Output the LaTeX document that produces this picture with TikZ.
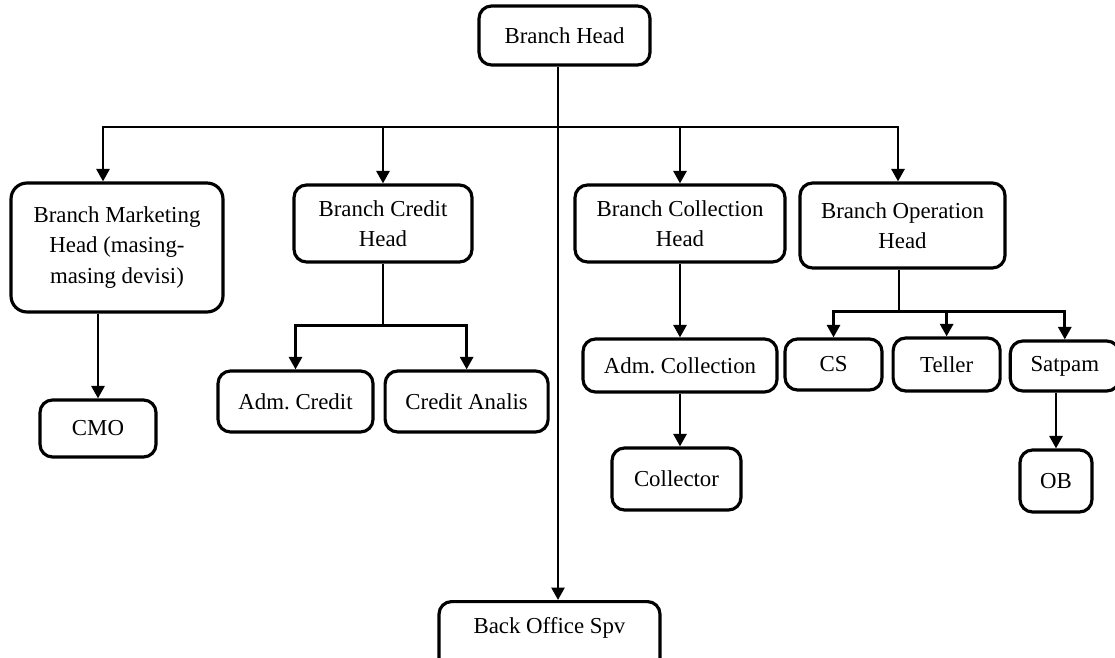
\documentclass[tikz,border=0pt]{standalone}
\usepackage{fontspec}
\setmainfont{Liberation Serif}
\usetikzlibrary{positioning, arrows.meta}

\begin{document}
\begin{tikzpicture}[
            x=0.02cm, y=-0.02cm,
            orgbox/.style={draw=black, line width=1.8pt, rounded corners=0.25cm, align=center, font=\fontsize{13}{17.4}\selectfont, inner sep=0pt},
            arrow/.style={-{Triangle[length=0.25cm, width=0.26cm]}, line width=1.6pt},
            link/.style={line width=1.6pt}
        ]
            \clip (0,0) rectangle (1115,658);

            \node[orgbox, minimum width=3.42cm, minimum height=1.18cm] (head) at (564.5,35.5) {Branch Head};

            \node[orgbox, rounded corners=0.32cm, minimum width=4.24cm, minimum height=2.58cm] (mkt) at (117,247.5) {Branch Marketing\\Head (masing-\\masing devisi)};
            \node[orgbox, minimum width=3.56cm, minimum height=1.54cm] (credit) at (383,223.5) {Branch Credit\\Head};
            \node[orgbox, minimum width=4.2cm, minimum height=1.54cm] (coll) at (680,223.5) {Branch Collection\\Head};
            \node[orgbox, minimum width=4.1cm, minimum height=1.7cm] (oper) at (902.5,225.5) {Branch Operation\\Head};

            \node[orgbox, minimum width=2.32cm, minimum height=1.14cm] (cmo) at (98,428.5) {CMO};
            \node[orgbox, minimum width=3.1cm, minimum height=1.22cm] (admcr) at (295.5,401.5) {Adm.\ Credit};
            \node[orgbox, minimum width=3.26cm, minimum height=1.22cm, right=0.18cm of admcr] (analis) {Credit Analis};
            \node[orgbox, minimum width=3.88cm, minimum height=1.06cm] (admcoll) at (680,365.5) {Adm.\ Collection};
            \node[orgbox, minimum width=2.58cm, minimum height=1.24cm] (collector) at (676.5,479) {Collector};
            \node[orgbox, minimum width=1.94cm, minimum height=1.02cm] (cs) at (833.5,364.5) {CS};
            \node[orgbox, minimum width=2.14cm, minimum height=1.06cm, right=0.16cm of cs] (teller) {Teller};
            \node[orgbox, minimum width=2.18cm, minimum height=1.0cm, right=0.14cm of teller, yshift=-0.03cm] (satpam) {Satpam};
            \node[orgbox, minimum width=1.44cm, minimum height=1.24cm] (ob) at (1056,481) {OB};

            \node[orgbox, minimum width=4.42cm, text height=0.64cm, text depth=0.8cm, anchor=north] (back) at (549.5,600) {Back Office Spv};

            \coordinate (bus) at (558,127);
            \draw[link] (head.south -| bus) -- (bus);
            \draw[arrow] (bus) -- (back.north -| bus);
            \draw[arrow] (bus) -| ([xshift=-0.28cm]mkt.north);
            \draw[arrow] (bus) -| (credit.north);
            \draw[arrow] (bus) -| (coll.north);
            \draw[arrow] (bus) -| ([xshift=-0.09cm]oper.north);

            \draw[arrow] (mkt.south -| cmo.north) -- (cmo.north);

            \draw[link] (credit.south) -- ++(0,62) coordinate (creditbus);
            \draw[arrow] (creditbus) -| (admcr.north);
            \draw[arrow] (creditbus) -| (analis.north);

            \draw[arrow] (coll.south) -- (admcoll.north);
            \draw[arrow] (admcoll.south) -- (admcoll.south |- collector.north);

            \draw[link] ([xshift=-0.07cm]oper.south) -- ++(0,42) coordinate (operbus);
            \draw[arrow] (operbus) -| (cs.north);
            \draw[arrow] (operbus) -| (teller.north);
            \draw[arrow] (operbus) -| (satpam.north);
            \draw[arrow] (satpam.south -| ob.north) -- (ob.north);

        \end{tikzpicture}
\end{document}
